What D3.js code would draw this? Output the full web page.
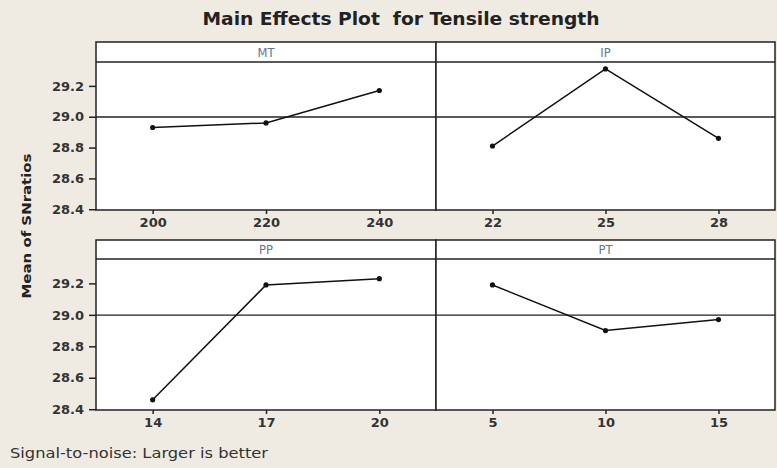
<!DOCTYPE html>
<html><head><meta charset="utf-8">
<script src="https://cdn.jsdelivr.net/npm/d3@7/dist/d3.min.js"></script>
<style>body{margin:0;background:#efebe2;}svg{display:block;}</style>
</head><body>
<svg id="c" width="777" height="468"></svg>
<script>
const factors = ["MT", "IP", "PP", "PT"];
const levelsMT = ["200", "220", "240"];
const levelsIP = ["22", "25", "28"];
const levelsPP = ["14", "17", "20"];
const levelsPT = ["5", "10", "15"];
const valuesMT = [28.93, 28.96, 29.17];
const valuesIP = [28.81, 29.31, 28.86];
const valuesPP = [28.46, 29.19, 29.23];
const valuesPT = [29.19, 28.90, 28.97];
const yTicks = [28.4, 28.6, 28.8, 29.0, 29.2];

const levels = [levelsMT, levelsIP, levelsPP, levelsPT];
const values = [valuesMT, valuesIP, valuesPP, valuesPT];
const grandMean = d3.mean(values.flat());

const svg = d3.select("#c");
const W = 777, H = 468;
svg.append("rect").attr("width", W).attr("height", H).attr("fill", "#efebe2");

const cols = [[96, 436], [436, 775]];
const rows = [{top: 42, strip: 62, bottom: 210}, {top: 240, strip: 259, bottom: 410}];
const font = "DejaVu Sans, Verdana, sans-serif";

svg.append("text").attr("x", 401).attr("y", 25).attr("text-anchor", "middle")
  .attr("font-family", font).attr("font-weight", "bold").attr("font-size", 18)
  .attr("fill", "#222").attr("xml:space", "preserve")
  .attr("textLength", 397).attr("lengthAdjust", "spacingAndGlyphs")
  .text("Main Effects Plot  for Tensile strength");

svg.append("text").attr("transform", "translate(31,226) rotate(-90)")
  .attr("text-anchor", "middle").attr("font-family", font).attr("font-weight", "bold")
  .attr("font-size", 12.5).attr("fill", "#222")
  .attr("textLength", 145).attr("lengthAdjust", "spacingAndGlyphs")
  .text("Mean of SNratios");

svg.append("text").attr("x", 10).attr("y", 458).attr("font-family", font)
  .attr("font-size", 14).attr("fill", "#333")
  .attr("textLength", 258).attr("lengthAdjust", "spacingAndGlyphs")
  .text("Signal-to-noise: Larger is better");

factors.forEach((f, i) => {
  const r = rows[Math.floor(i / 2)], c = cols[i % 2];
  const x = d3.scalePoint().domain(levels[i]).range(c).padding(0.5);
  const y = d3.scaleLinear().domain([28.395, 29.355]).range([r.bottom, r.strip]);
  const g = svg.append("g");
  g.append("rect").attr("x", c[0]).attr("y", r.top).attr("width", c[1] - c[0])
    .attr("height", r.bottom - r.top).attr("fill", "#fff");
  // mean reference line
  g.append("line").attr("x1", c[0]).attr("x2", c[1]).attr("y1", y(grandMean)).attr("y2", y(grandMean))
    .attr("stroke", "#222").attr("stroke-width", 1.3);
  // strip
  g.append("line").attr("x1", c[0]).attr("x2", c[1]).attr("y1", r.strip).attr("y2", r.strip)
    .attr("stroke", "#222").attr("stroke-width", 1.5);
  g.append("text").attr("x", (c[0] + c[1]) / 2).attr("y", (r.top + r.strip) / 2 + 4.5)
    .attr("text-anchor", "middle").attr("font-family", font).attr("font-size", 11.5)
    .attr("fill", "#66758a").text(f);
  g.append("rect").attr("x", c[0]).attr("y", r.top).attr("width", c[1] - c[0])
    .attr("height", r.bottom - r.top).attr("fill", "none").attr("stroke", "#222").attr("stroke-width", 1.5);
  // data line
  const pts = levels[i].map((l, k) => [l, values[i][k]]);
  g.append("path").datum(pts)
    .attr("d", d3.line().x(d => x(d[0])).y(d => y(d[1])))
    .attr("fill", "none").attr("stroke", "#111").attr("stroke-width", 1.5);
  g.selectAll("circle").data(pts).join("circle")
    .attr("cx", d => x(d[0])).attr("cy", d => y(d[1])).attr("r", 2.6).attr("fill", "#111");
  // x axis
  const xa = g.append("g").attr("transform", `translate(0,${r.bottom})`)
    .call(d3.axisBottom(x).tickSize(4).tickPadding(4));
  xa.select(".domain").remove();
  xa.selectAll("line").attr("stroke", "#222").attr("stroke-width", 1.5);
  xa.selectAll("text").attr("font-family", font).attr("font-weight", "bold")
    .attr("font-size", 13).attr("fill", "#333");
  // y axis on left column only
  if (i % 2 === 0) {
    const ya = g.append("g").attr("transform", `translate(${c[0]},0)`)
      .call(d3.axisLeft(y).tickValues(yTicks).tickFormat(d3.format(".1f")).tickSize(7).tickPadding(5));
    ya.select(".domain").remove();
    ya.selectAll("line").attr("stroke", "#222").attr("stroke-width", 1.5);
    ya.selectAll("text").attr("font-family", font).attr("font-weight", "bold")
      .attr("font-size", 13).attr("fill", "#333");
  }
});
</script>
</body></html>
